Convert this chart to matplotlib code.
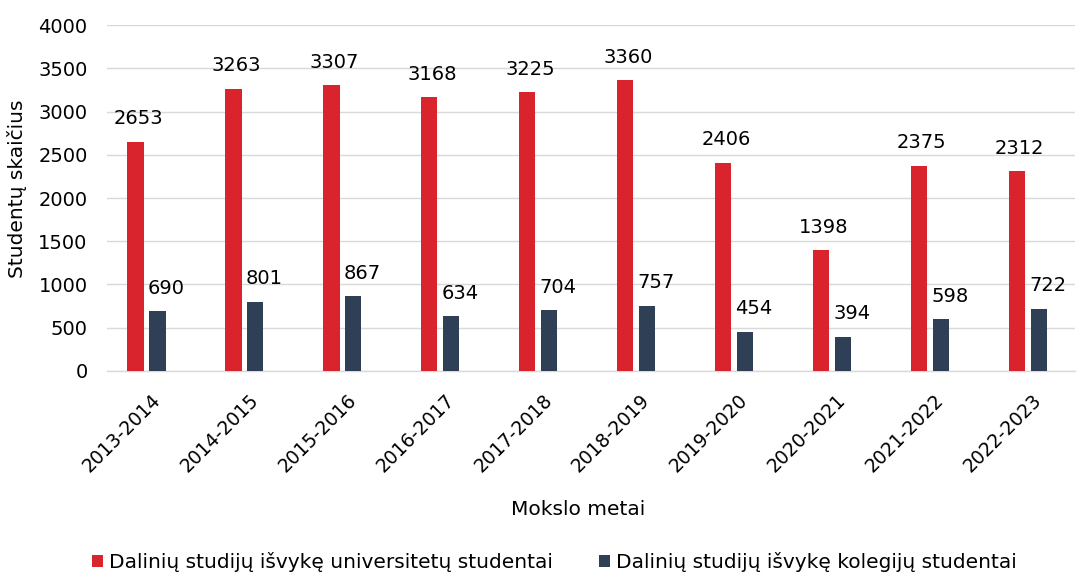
import matplotlib.pyplot as plt
import numpy as np
from matplotlib.transforms import ScaledTranslation

metai = ['2013-2014', '2014-2015', '2015-2016', '2016-2017', '2017-2018',
         '2018-2019', '2019-2020', '2020-2021', '2021-2022', '2022-2023']
universitetai = [2653, 3263, 3307, 3168, 3225, 3360, 2406, 1398, 2375, 2312]
kolegijos = [690, 801, 867, 634, 704, 757, 454, 394, 598, 722]

raudona = '#D9232D'
melyna = '#2E3F56'

plt.rcParams['font.family'] = 'DejaVu Sans'

fig = plt.figure(figsize=(10.79, 5.74), dpi=100)
ax = fig.add_axes([0.0992, 0.3537, 0.8971, 0.6027])

x = np.arange(len(metai))
w = 0.17
b1 = ax.bar(x - 0.112, universitetai, w, color=raudona,
            label='Dalinių studijų išvykę universitetų studentai', zorder=3)
b2 = ax.bar(x + 0.112, kolegijos, w, color=melyna,
            label='Dalinių studijų išvykę kolegijų studentai', zorder=3)

for rect, v in zip(b1, universitetai):
    ax.annotate(str(v), (rect.get_x() + rect.get_width() / 2, v),
                xytext=(2, 16.5), textcoords='offset points',
                ha='center', va='center', fontsize=14)
for rect, v in zip(b2, kolegijos):
    ax.annotate(str(v), (rect.get_x() + rect.get_width() / 2, v),
                xytext=(6.5, 16.5), textcoords='offset points',
                ha='center', va='center', fontsize=14)

ax.set_ylim(0, 4000)
ax.set_yticks(np.arange(0, 4001, 500))
ax.set_xlim(-0.40, 9.48)
ax.set_xticks(x)
ax.set_xticklabels(metai, rotation=45, ha='right', va='center',
                   rotation_mode='anchor', fontsize=13.5)
ax.tick_params(axis='x', length=0, pad=0)
ax.tick_params(axis='y', length=0, pad=14, labelsize=14)
for lab in ax.get_xticklabels():
    lab.set_transform(lab.get_transform() + ScaledTranslation(0.11, -0.26, fig.dpi_scale_trans))

ax.grid(axis='y', color='#d9d9d9', linewidth=1, zorder=0)
for s in ['top', 'right', 'left']:
    ax.spines[s].set_visible(False)
ax.spines['bottom'].set_color('#d9d9d9')
ax.spines['bottom'].set_linewidth(1)

fig.text(0.016, 0.672, 'Studentų skaičius', rotation=90, ha='center', va='center',
         fontsize=14.5)
fig.text(0.5357, 0.1115, 'Mokslo metai', ha='center', va='center', fontsize=14.5)

fig.legend(handles=[b1, b2], loc='center', bbox_to_anchor=(0.514, 0.021),
           ncol=2, frameon=False, fontsize=14.5, handlelength=0.55,
           handleheight=0.55, handletextpad=0.3, columnspacing=2.3)

fig.savefig('out.png', dpi=100)
